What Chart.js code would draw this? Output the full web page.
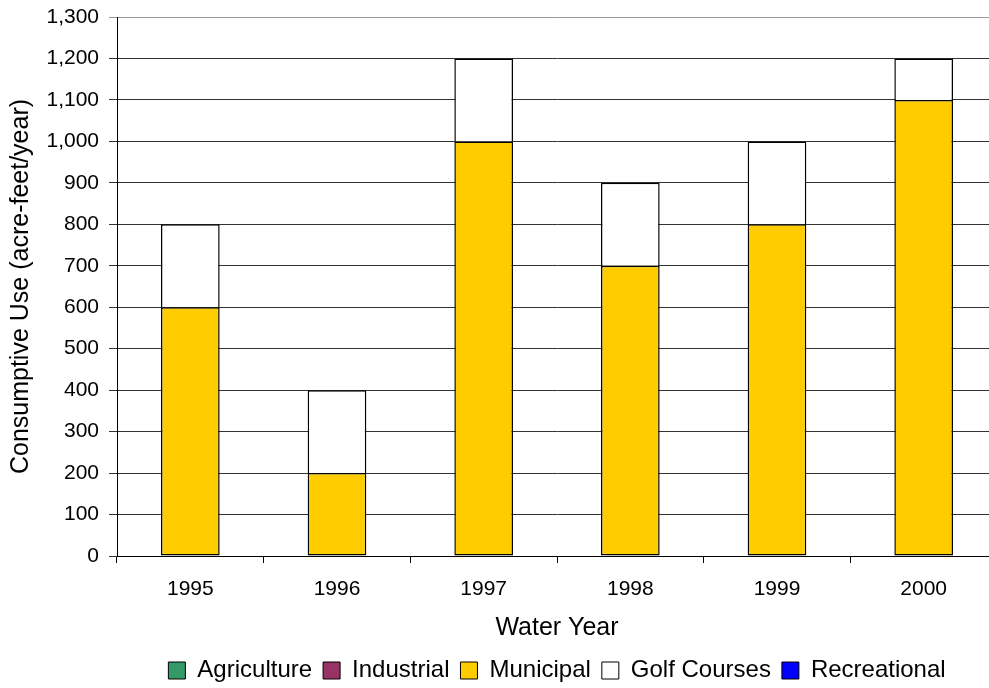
<!DOCTYPE html>
<html>
<head>
<meta charset="utf-8">
<script src="https://cdn.jsdelivr.net/npm/chart.js@4/dist/chart.umd.min.js"></script>
<style>
html,body{margin:0;padding:0;background:#fff;overflow:hidden;width:989px;height:688px;}
#wrap{position:absolute;left:0;top:0;width:1000px;height:688px;}
</style>
</head>
<body>
<div id="wrap"><canvas id="c" width="1000" height="688"></canvas></div>
<script>
const years = ['1995','1996','1997','1998','1999','2000'];
const agriculture = [0,0,0,0,0,0];
const industrial = [0,0,0,0,0,0];
const municipal = [600,200,1000,700,800,1100];
const golfCourses = [200,200,200,200,200,100];
const recreational = [0,0,0,0,0,0];
const yTitle = 'Consumptive Use (acre-feet/year)';
const xTitle = 'Water Year';

const FONT = "'Liberation Sans', Arial, sans-serif";
function ds(label, data, color, skip){
  return {label, data, backgroundColor: color, borderColor:'#000',
    borderWidth:(ctx)=> (ctx.raw === 0 ? 0 : 1.5),
    categoryPercentage:1, barPercentage:0.4, borderSkipped: skip || false};
}
const legendPlace = {
  id:'legendPlace',
  afterLayout(chart){
    const L = chart.legend;
    if (!L) return;
    const dy = 670 - (L.top + L.height/2);
    L.top += dy; L.bottom += dy;
  }
};
new Chart(document.getElementById('c'), {
  type:'bar',
  data:{labels: years, datasets:[
    ds('Agriculture', agriculture, '#339966'),
    ds('Industrial', industrial, '#993366'),
    ds('Municipal', municipal, '#FFCC00'),
    ds('Golf Courses', golfCourses, '#FFFFFF', 'bottom'),
    ds('Recreational', recreational, '#0000FF')
  ]},
  plugins:[legendPlace],
  options:{
    responsive:false, animation:false, devicePixelRatio:1,
    layout:{padding:{top:17,left:6,right:3,bottom:0}},
    plugins:{
      tooltip:{enabled:false},
      legend:{position:'bottom', fullSize:false,
        labels:{font:{family:FONT,size:24}, color:'#000', boxWidth:17, boxHeight:17, padding:11,
          generateLabels:(chart)=>{
            const items = Chart.defaults.plugins.legend.labels.generateLabels(chart);
            items.forEach(it=>{ it.lineWidth = 1; it.strokeStyle = '#000'; });
            return items;
          }}
      }
    },
    scales:{
      x:{stacked:true,
        afterFit:(s)=>{ s.height = 87; },
        grid:{offset:true, drawOnChartArea:false, drawTicks:true, tickLength:7, color:'#000'},
        border:{color:'#000'},
        ticks:{font:{family:FONT,size:21}, color:'#000', padding:14},
        title:{display:true, text:xTitle, font:{family:FONT,size:25}, color:'#000', padding:{top:0,bottom:0}}
      },
      y:{stacked:true, min:0, max:1300,
        afterFit:(s)=>{ s.width = 111; s.paddingTop = 0; },
        grid:{color:(c)=> c.tick && c.tick.value===1300 ? '#999' : '#333', tickLength:8, drawTicks:true},
        border:{color:'#000'},
        ticks:{stepSize:100, font:{family:FONT,size:21}, color:'#000', padding:10,
          callback:(v)=>v.toLocaleString('en-US')},
        title:{display:true, text:yTitle, font:{family:FONT,size:25}, color:'#000', padding:{top:0,bottom:0}}
      }
    }
  }
});
</script>
</body>
</html>
